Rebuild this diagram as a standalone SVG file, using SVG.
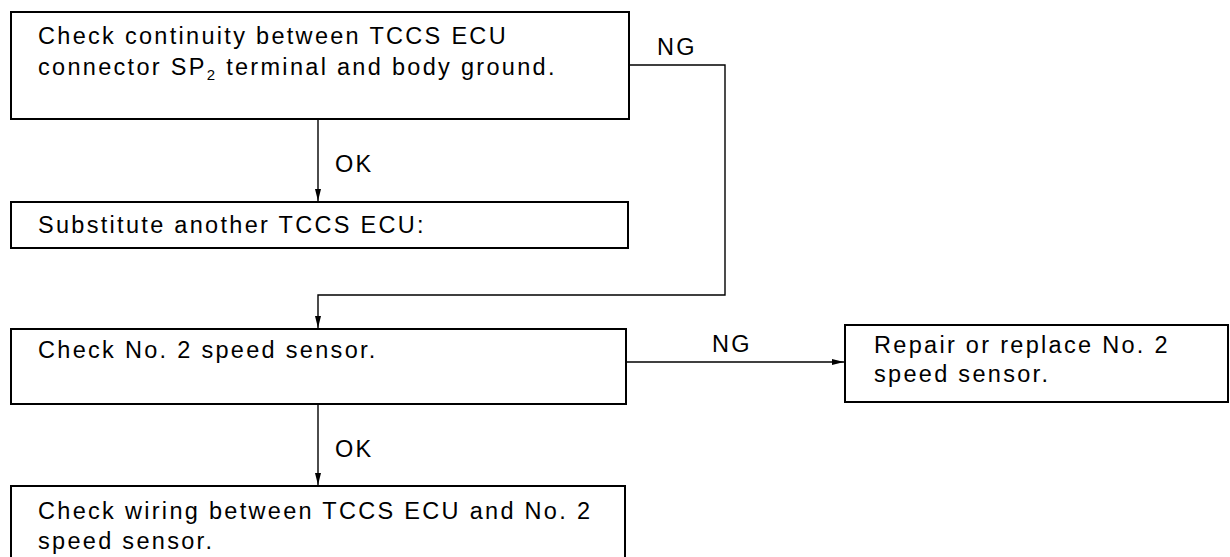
<svg xmlns="http://www.w3.org/2000/svg" width="1230" height="557" viewBox="0 0 1230 557">
<style>
.box{fill:#fff;stroke:#000;stroke-width:2}
.t{font-family:"Liberation Sans",Arial,sans-serif;font-size:23.5px;letter-spacing:2.3px;fill:#000}
.c{fill:none;stroke:#000;stroke-width:1.4}
</style>
<defs>
<marker id="ah" markerUnits="userSpaceOnUse" markerWidth="13" markerHeight="7" refX="12" refY="3" orient="auto">
<path d="M0,0 L12,3 L0,6 z" fill="#000"/>
</marker>
</defs>
<rect width="1230" height="557" fill="#fff"/>
<g id="connectors">
<path class="c" d="M318,119 V201" marker-end="url(#ah)"/>
<path class="c" d="M629,65 H725 V295 H318 V328" marker-end="url(#ah)"/>
<path class="c" d="M626,362 H844" marker-end="url(#ah)"/>
<path class="c" d="M318,404 V485" marker-end="url(#ah)"/>
<text class="t" x="657" y="55">NG</text>
<text class="t" x="335" y="172">OK</text>
<text class="t" x="712" y="352">NG</text>
<text class="t" x="335" y="457">OK</text>
</g>
<g id="n1">
<rect class="box" x="11" y="12" width="618" height="107"/>
<text class="t" x="38" y="44">Check continuity between TCCS ECU</text>
<text class="t" x="38" y="75">connector SP<tspan font-size="15" dy="5">2</tspan><tspan dy="-5"> terminal and body ground.</tspan></text>
</g>
<g id="n2">
<rect class="box" x="11" y="202" width="617" height="46"/>
<text class="t" x="38" y="233">Substitute another TCCS ECU:</text>
</g>
<g id="n3">
<rect class="box" x="11" y="329" width="615" height="75"/>
<text class="t" x="38" y="358">Check No. 2 speed sensor.</text>
</g>
<g id="n4">
<rect class="box" x="845" y="325" width="383" height="77"/>
<text class="t" x="874" y="353">Repair or replace No. 2</text>
<text class="t" x="874" y="382">speed sensor.</text>
</g>
<g id="n5">
<rect class="box" x="11" y="486" width="614" height="90"/>
<text class="t" x="38" y="519">Check wiring between TCCS ECU and No. 2</text>
<text class="t" x="38" y="549">speed sensor.</text>
</g>
</svg>
